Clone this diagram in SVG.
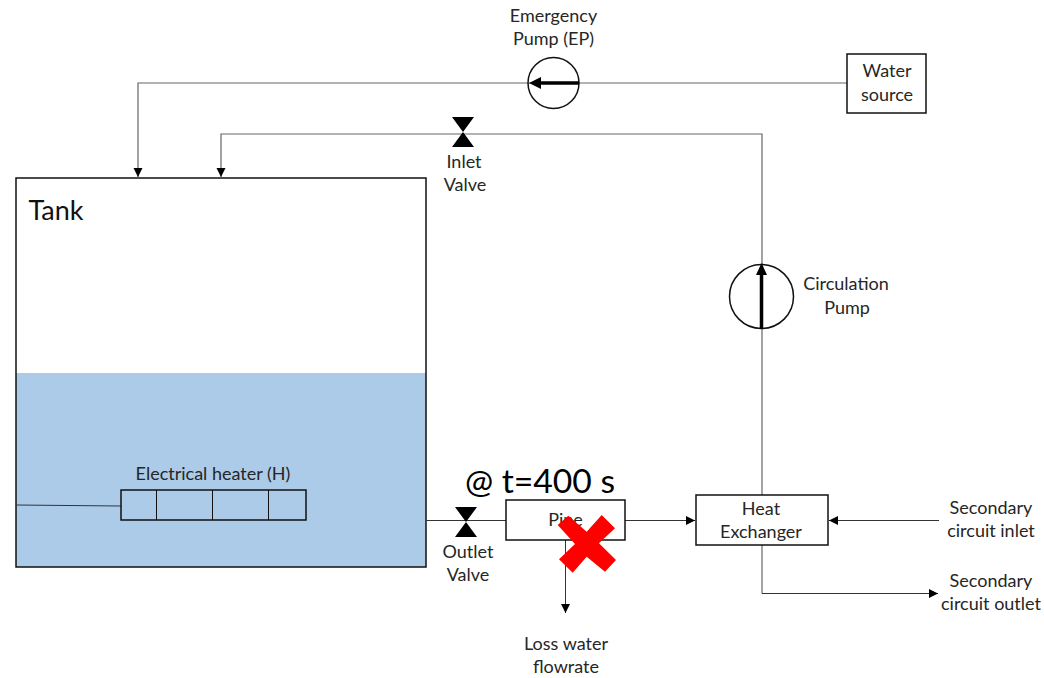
<svg xmlns="http://www.w3.org/2000/svg" width="1044" height="678" viewBox="0 0 1044 678">
<style>
text{font-family:Lato,"Open Sans",sans-serif;font-size:18px;fill:#262626;text-anchor:middle}
.box{fill:#fff;stroke:#111;stroke-width:1.5}
.line{fill:none;stroke:#333;stroke-width:1}
.grey{fill:none;stroke:#666;stroke-width:1.2}
.valve{fill:#000}
.pump{fill:none;stroke:#111;stroke-width:1.5}
.shaft{stroke:#000;stroke-width:3.5}
</style>
<defs>
<marker id="arrow" markerUnits="userSpaceOnUse" markerWidth="10" markerHeight="10" refX="9" refY="5" orient="auto"><path d="M0,0.5L9,5L0,9.5Z" fill="#000"/></marker>
</defs>
<g id="tank">
<rect x="16" y="373" width="410" height="194" fill="#abcbe8"/>
<rect x="16" y="178" width="410" height="389" fill="none" stroke="#111" stroke-width="1.5"/>
<text x="56" y="220" style="font-size:27px;fill:#111">Tank</text>
</g>
<g id="connectors">
<path class="grey" d="M847,83H138V177" marker-end="url(#arrow)"/>
<path class="grey" d="M762,495V134H221V177" marker-end="url(#arrow)"/>
<path class="line" d="M16,505L121,506"/>
<path class="line" d="M426,520.500H506"/>
<path class="line" d="M625,520.500H695" marker-end="url(#arrow)"/>
<path class="line" d="M565.500,540V613" marker-end="url(#arrow)"/>
<path class="line" d="M939,520.500H829" marker-end="url(#arrow)"/>
<path class="grey" d="M762,545V593.500" />
<path class="line" d="M762,593.500H938" marker-end="url(#arrow)"/>
</g>
<g id="emergency-pump">
<circle class="pump" cx="553.500" cy="83" r="25.500"/>
<path class="shaft" d="M579,83H538"/>
<path d="M529,83L541,77V89Z" fill="#000"/>
<text x="553.500" y="22">Emergency</text>
<text x="553.500" y="45">Pump (EP)</text>
</g>
<g id="water-source">
<rect class="box" x="847" y="54" width="79" height="59"/>
<text x="887" y="77">Water</text>
<text x="887" y="101">source</text>
</g>
<g id="inlet-valve">
<path class="valve" d="M452,117H474L463,132L474,147H452L463,132Z"/>
<text x="464" y="168">Inlet</text>
<text x="465" y="191">Valve</text>
</g>
<g id="circulation-pump">
<circle class="pump" cx="761.500" cy="296.500" r="32"/>
<path class="shaft" d="M761.500,329V272"/>
<path d="M761.500,263L767,275H756Z" fill="#000"/>
<text x="846" y="290">Circulation</text>
<text x="847" y="314">Pump</text>
</g>
<g id="heater">
<rect x="121" y="490" width="185" height="30" fill="none" stroke="#111" stroke-width="1.500"/>
<path class="line" style="stroke:#111" d="M156.500,490V520M212.500,490V520M268.500,490V520"/>
<text x="213" y="480">Electrical heater (H)</text>
</g>
<g id="outlet-valve">
<path class="valve" d="M455,507H477L466,522L477,537H455L466,522Z"/>
<text x="468" y="558">Outlet</text>
<text x="468" y="581">Valve</text>
</g>
<g id="pipe">
<rect class="box" x="506" y="500" width="119" height="40"/>
<text x="565.500" y="526">Pipe</text>
<text x="540" y="493" style="font-size:33.700px;fill:#000">@ t=400 s</text>
<polygon points="557.700,525 568.300,515.700 586.700,531.700 601.700,515 615,528.300 599,543.300 616,560 605,571.700 586.700,556.700 572.700,572.700 559,559.300 575,544" fill="#f00"/>
</g>
<g id="heat-exchanger">
<rect class="box" x="696" y="495" width="132" height="50"/>
<text x="761" y="515">Heat</text>
<text x="761" y="538">Exchanger</text>
</g>
<g id="secondary-inlet"><text x="991" y="514">Secondary</text><text x="991" y="537">circuit inlet</text></g>
<g id="secondary-outlet"><text x="991" y="587">Secondary</text><text x="991" y="610">circuit outlet</text></g>
<g id="loss"><text x="566" y="650">Loss water</text><text x="566" y="673">flowrate</text></g>
</svg>
